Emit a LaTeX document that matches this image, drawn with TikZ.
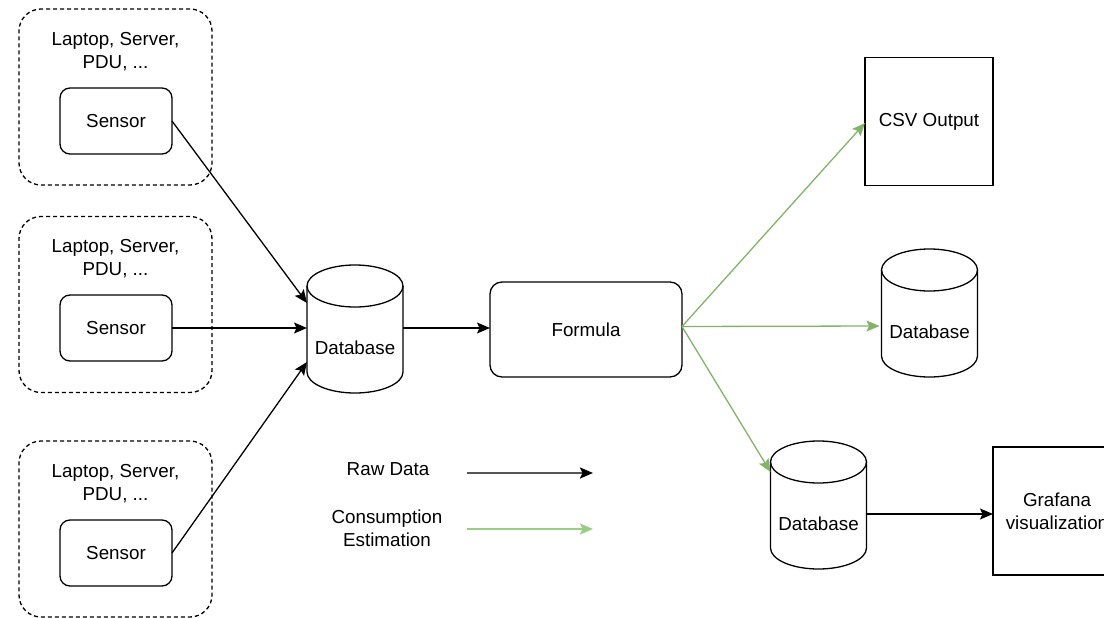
\documentclass[tikz,border=0pt]{standalone}
\usepackage{fontspec}
\setmainfont{Liberation Sans}
\usetikzlibrary{arrows.meta}
\definecolor{grn}{HTML}{82B366}
\definecolor{lgrn}{HTML}{9ACD84}
\definecolor{legray}{HTML}{555555}
\begin{document}
\begin{tikzpicture}[x=1pt,y=-1pt,
  every node/.style={font=\fontsize{18.8pt}{23pt}\selectfont, inner sep=0pt, outer sep=0pt},
  grp/.style={draw, line width=1.3pt, dash pattern=on 4pt off 3pt, rounded corners=22pt, minimum width=193pt, minimum height=176pt},
  sensorbox/.style={draw, line width=1.3pt, rounded corners=10pt, minimum width=112pt, minimum height=66pt},
  formbox/.style={draw, line width=1.3pt, rounded corners=12pt, minimum width=192pt, minimum height=95pt},
  sqbox/.style={draw, line width=1.3pt, minimum width=128pt, minimum height=128pt, align=center},
  dbbox/.style={minimum width=96pt, minimum height=128pt},
  cyl/.style={line width=1.3pt},
  arr/.style={line width=1.3pt, -{Stealth[length=13pt,width=11pt,inset=2.5pt]}},
  garr/.style={arr, draw=grn},
  legarr/.style={line width=2.2pt, draw=legray, -{Stealth[length=13pt,width=11pt,inset=2.5pt,color=black]}},
  leggarr/.style={line width=2.2pt, draw=lgrn, -{Stealth[length=13pt,width=11pt,inset=2.5pt]}}
]
\useasboundingbox (0,0) rectangle (1104,618);
\clip (0,0) rectangle (1104,618);

\newcommand\DBcyl[3]{%
  \node[dbbox] (#1) at (#2,#3) {};
  \draw[cyl] ([yshift=-21pt]#1.north west) -- ([yshift=21pt]#1.south west)
     arc[start angle=180,end angle=360,x radius=48pt,y radius=21pt]
     -- ([yshift=-21pt]#1.north east);
  \draw[cyl] ([yshift=-21pt]#1.north) ellipse[x radius=48pt,y radius=21pt];
  \node (#1t) at ([yshift=-19pt]#1.center) {Database};
}

% device groups
\node[grp] (g1) at (115.5,97) {};
\node[grp] (g2) at (115.5,304.5) {};
\node[grp] (g3) at (115.5,529) {};
\node[align=center] (g1t) at ([yshift=-42.5pt]g1.north) {Laptop, Server,\\PDU, ...};
\node[align=center] (g2t) at ([yshift=-42.5pt]g2.north) {Laptop, Server,\\PDU, ...};
\node[align=center] (g3t) at ([yshift=-42.5pt]g3.north) {Laptop, Server,\\PDU, ...};

% sensors
\node[sensorbox] (s1) at (116,121) {Sensor};
\node[sensorbox] (s2) at (116,328) {Sensor};
\node[sensorbox] (s3) at (116,553) {Sensor};

% databases
\DBcyl{db1}{355}{329}
\DBcyl{db2}{929.5}{313}
\DBcyl{db3}{818.5}{505}

% formula and outputs
\node[formbox] (f) at (586,329.5) {Formula};
\node[sqbox] (csv) at (929,121.5) {CSV Output};
\node[sqbox] (graf) at (1057,511) {Grafana\\visualization};

% raw data connectors
\draw[arr] (s1.east) -- ([yshift=26pt]db1.west);
\draw[arr] (s2.east) -- ([yshift=1pt]db1.west);
\draw[arr] (s3.east) -- ([yshift=-33pt]db1.west);
\draw[arr] ([yshift=1pt]db1.east) -- ([yshift=1.5pt]f.west);
\draw[arr] ([yshift=-9pt]db3.east) -- ([yshift=-3pt]graf.west);

% estimation connectors
\coordinate (fo) at ([yshift=3pt]f.east);
\draw[garr] (fo) -- ([yshift=-1.5pt]csv.west);
\draw[garr] (fo) -- ([yshift=-13pt,xshift=-2pt]db2.west);
\draw[garr] (fo) -- ([yshift=33pt]db3.west);

% legend
\node (lraw) at (388,469) {Raw Data};
\node[align=center] (lest) at (387,528) {Consumption\\Estimation};
\coordinate (la1) at (467,473);
\coordinate (la2) at (593,473);
\coordinate (lb1) at (467,529);
\coordinate (lb2) at (593,529);
\draw[legarr] (la1) -- (la2);
\draw[leggarr] (lb1) -- (lb2);
\end{tikzpicture}
\end{document}
